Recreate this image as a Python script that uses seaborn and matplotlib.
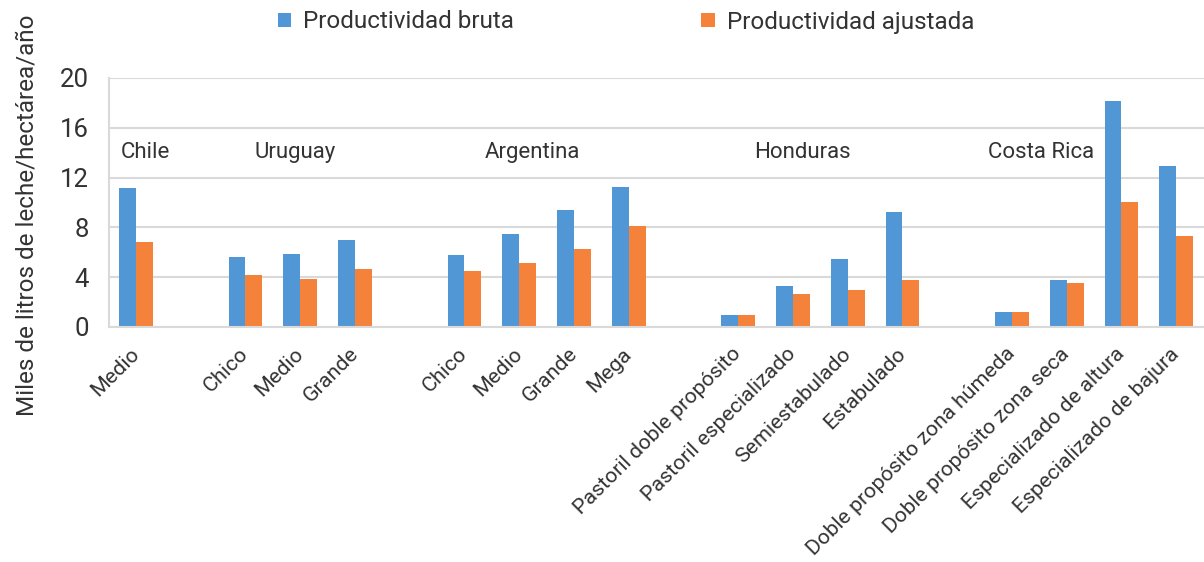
import matplotlib
matplotlib.use("Agg")
import matplotlib.pyplot as plt
import matplotlib.transforms as mtransforms
import pandas as pd
import seaborn as sns

# Productivity per farm type, thousand litres of milk per hectare per year
countries = ["Chile", "Uruguay", "Argentina", "Honduras", "Costa Rica"]
subgroups = [
    ["Medio"],
    ["Chico", "Medio", "Grande"],
    ["Chico", "Medio", "Grande", "Mega"],
    ["Pastoril doble propósito", "Pastoril especializado", "Semiestabulado", "Estabulado"],
    ["Doble propósito zona húmeda", "Doble propósito zona seca",
     "Especializado de altura", "Especializado de bajura"],
]
bruta = [11.2, 5.6, 5.85, 6.95, 5.8, 7.5, 9.4, 11.25,
         1.0, 3.3, 5.45, 9.25, 1.2, 3.8, 18.15, 12.9]
ajustada = [6.8, 4.15, 3.85, 4.65, 4.5, 5.15, 6.3, 8.15,
            1.0, 2.65, 2.95, 3.8, 1.2, 3.5, 10.05, 7.3]
series = ["Productividad bruta", "Productividad ajustada"]
colors = ["#5197D5", "#F5823A"]
yticks = [0, 4, 8, 12, 16, 20]
ylabel = "Miles de litros de leche/hectárea/año"

# long table + category order with an empty slot between countries
rows, order, ticklabels = [], [], []
i = 0
for gi, (country, subs) in enumerate(zip(countries, subgroups)):
    if gi > 0:
        order.append(f"_sep{gi}")
        ticklabels.append("")
    for s in subs:
        key = f"{country}|{s}"
        order.append(key)
        ticklabels.append(s)
        rows.append({"key": key, "serie": series[0], "valor": bruta[i]})
        rows.append({"key": key, "serie": series[1], "valor": ajustada[i]})
        i += 1
df = pd.DataFrame(rows)

sns.set_theme(style="white")
plt.rcParams["font.family"] = ["Roboto", "DejaVu Sans"]
text_color = "#333333"
grid_color = "#D9D9D9"

fig = plt.figure(figsize=(12.04, 5.62), dpi=100)
ax = fig.add_axes([108.6 / 1204, 1 - 327 / 562, 1095 / 1204, (327 - 78) / 562])

sns.barplot(data=df, x="key", y="valor", hue="serie", order=order,
            hue_order=series, palette=colors, width=0.62, gap=0,
            linewidth=0, saturation=1, ax=ax)

ax.set_xlim(-0.5, len(order) - 0.5)
ax.set_ylim(0, 20)
ax.set_yticks(yticks)
ax.set_yticklabels([str(t) for t in yticks], fontsize=18.5, color=text_color)
ax.set_xticks(range(len(order)))
ax.set_xticklabels(ticklabels, rotation=45, ha="right", va="baseline",
                   rotation_mode="anchor", fontsize=15.4, color=text_color)
ax.tick_params(axis="x", length=0, pad=20)
shift = mtransforms.ScaledTranslation(4 / 100, 0, fig.dpi_scale_trans)
for lab in ax.get_xticklabels():
    lab.set_transform(lab.get_transform() + shift)
ax.tick_params(axis="y", length=7, width=1.5, color=grid_color, pad=7)
ax.set_xlabel("")
ax.set_ylabel(ylabel, fontsize=17.5, color=text_color)
ax.yaxis.set_label_coords(-70 / 1095, 0.45)

ax.grid(axis="y", color=grid_color, linewidth=1.5)
ax.set_axisbelow(True)
for side in ["top", "right"]:
    ax.spines[side].set_visible(False)
for side in ["left", "bottom"]:
    ax.spines[side].set_color(grid_color)
    ax.spines[side].set_linewidth(1.5)

# country names above each group
label_x = [0.18, 2.9, 7.25, 12.17, 16.54]
for name, x in zip(countries, label_x):
    ax.text(x, 14.0, name, ha="center", va="center", fontsize=16,
            color=text_color)

handles, labels = ax.get_legend_handles_labels()
ax.get_legend().remove()
fig.legend(handles, labels, loc="center", bbox_to_anchor=(626 / 1204, 1 - 22 / 562),
           ncol=2, frameon=False, fontsize=17.5, handlelength=0.55,
           handleheight=0.55, handletextpad=0.5, columnspacing=7.7,
           labelcolor=text_color)

fig.savefig("out.png", dpi=100)
